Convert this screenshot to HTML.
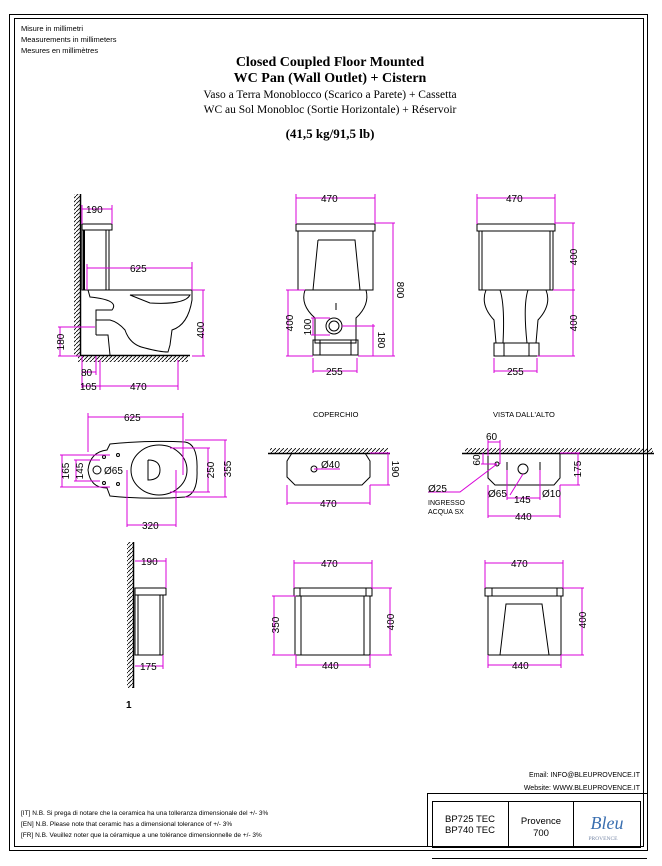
<!DOCTYPE html>
<html><head><meta charset="utf-8"><style>
html,body{margin:0;padding:0;background:#fff;}
svg{display:block;}
.s{font-family:"Liberation Sans",sans-serif;}
.t{font-family:"Liberation Serif",serif;}
.d{stroke:#d800d8;stroke-width:1;fill:none;}
.k{stroke:#000;fill:none;stroke-width:1;}
.dt{font-family:"Liberation Sans",sans-serif;font-size:10px;fill:#000;}
</style></head><body>
<svg width="662" height="866" viewBox="0 0 662 866" xmlns="http://www.w3.org/2000/svg">
<defs>
<pattern id="h" width="4" height="4" patternUnits="userSpaceOnUse"><path d="M0 4 L4 0" stroke="#000" stroke-width="0.8"/></pattern>
</defs>
<!-- frame -->
<rect x="9.5" y="14.5" width="638" height="836" class="k" stroke-width="1.5"/>
<rect x="14.5" y="18.5" width="629" height="828" class="k"/>
<line x1="427" y1="793.5" x2="647" y2="793.5" stroke="#000"/>
<line x1="427.5" y1="793" x2="427.5" y2="847" stroke="#000"/>
<rect x="432.5" y="801.5" width="208" height="46" class="k" stroke-width="1.3"/>
<line x1="508.5" y1="801" x2="508.5" y2="847" stroke="#000"/>
<line x1="573.5" y1="801" x2="573.5" y2="847" stroke="#000"/>
<line x1="432" y1="858.5" x2="647" y2="858.5" stroke="#000"/>
<!-- header -->
<g class="s" font-size="7.5">
<text x="21" y="31">Misure in millimetri</text>
<text x="21" y="42">Measurements in millimeters</text>
<text x="21" y="53">Mesures en millimètres</text>
</g>
<g class="t" text-anchor="middle">
<text x="330" y="66" font-size="14" font-weight="bold">Closed Coupled Floor Mounted</text>
<text x="330" y="82" font-size="14" font-weight="bold">WC Pan (Wall Outlet) + Cistern</text>
<text x="330" y="98" font-size="11.5">Vaso a Terra Monoblocco (Scarico a Parete) + Cassetta</text>
<text x="330" y="113" font-size="11.5">WC au Sol Monobloc (Sortie Horizontale) + Réservoir</text>
<text x="330" y="138" font-size="13" font-weight="bold">(41,5 kg/91,5 lb)</text>
</g>
<!-- SIDE VIEW -->
<rect x="74" y="194" width="6" height="162" fill="url(#h)"/>
<line x1="80.5" y1="194" x2="80.5" y2="356" stroke="#000" stroke-width="1.5"/>
<rect x="78" y="356" width="110" height="6" fill="url(#h)"/>
<line x1="80" y1="355.5" x2="190" y2="355.5" stroke="#000" stroke-width="1.5"/>
<rect x="82" y="224" width="30" height="6" class="k" stroke-width="1.5"/>
<rect x="82" y="230" width="27" height="60" class="k"/>
<line x1="84" y1="230" x2="84" y2="290" stroke="#000" stroke-width="2"/>
<line x1="106" y1="230" x2="106" y2="290" stroke="#000"/>
<path class="k" d="M108 290 L192 290 L192 300 Q188 325 172 330 L170 345 L168 352 Q160 352 145 348 Q130 345 125 330 Q118 322 110 320 L96 320 L96 310 L112 310 Q120 300 90 297 L88 290 Z"/>
<path class="k" d="M130 295 L190 295 Q185 305 150 303 Z"/>
<path class="k" d="M96 335 L108 335 L110 355 M96 320 L96 335"/>
<!-- side dims -->
<g class="d">
<path d="M82 209 H112 M112 205 V224 M82 205 V224"/>
<path d="M87 268 H192 M87 264 V290 M192 262 V290"/>
<path d="M192 290 H205 M203 290 V356 M192 356 H205"/>
<path d="M58 327 H95 M60 327 V356 M58 356 H80"/>
<path d="M82 372 H96 M96 356 V375 M82 356 V388"/>
<path d="M82 386 H100 M100 360 V390 M178 360 V390 M100 386 H178"/>
</g>
<g class="dt">
<text x="86" y="213">190</text>
<text x="130" y="272">625</text>
<text x="206" y="330" transform="rotate(-90 206 330)" text-anchor="middle" dy="-2">400</text>
<text x="64" y="342" transform="rotate(-90 64 342)" text-anchor="middle">180</text>
<text x="81" y="376">80</text>
<text x="80" y="390">105</text>
<text x="130" y="390">470</text>
</g>
<!-- FRONT VIEW -->
<rect x="296" y="224" width="79" height="7" class="k" stroke-width="1.5"/>
<rect x="298" y="231" width="75" height="59" class="k"/>
<path class="k" d="M318 240 L355 240 L360 290 M318 240 L313 290"/>
<path class="k" d="M305 290 Q300 305 315 318 L315 343 L356 343 L356 318 Q370 305 366 290"/>
<path class="k" d="M313 340 H358 V355 H313 Z M320 340 V355 M351 340 V355"/>
<circle cx="334" cy="326" r="8" class="k" stroke-width="1.5"/><circle cx="334" cy="326" r="5" class="k"/>
<line x1="336" y1="303" x2="336" y2="310" stroke="#000"/>
<g class="d">
<path d="M296 198 H375 M296 194 V224 M375 194 V224"/>
<path d="M375 223 H395 M393 223 V356 M358 356 H395"/>
<path d="M286 290 H305 M288 290 V356 M286 356 H313"/>
<path d="M311 318 H330 M313 318 V335 M311 335 H330"/>
<path d="M342 326 H375 M373 324 V356"/>
<path d="M313 358 V373 M357 358 V373 M313 371 H357"/>
</g>
<g class="dt">
<text x="321" y="202">470</text>
<text x="397" y="290" transform="rotate(90 397 290)" text-anchor="middle">800</text>
<text x="293" y="323" transform="rotate(-90 293 323)" text-anchor="middle">400</text>
<text x="311" y="327" transform="rotate(-90 311 327)" text-anchor="middle">100</text>
<text x="378" y="340" transform="rotate(90 378 340)" text-anchor="middle">180</text>
<text x="326" y="375">255</text>
</g>
<!-- BACK VIEW -->
<rect x="477" y="224" width="78" height="7" class="k" stroke-width="1.5"/>
<rect x="479" y="231" width="74" height="59" class="k"/>
<line x1="482" y1="231" x2="482" y2="290" stroke="#000"/><line x1="550" y1="231" x2="550" y2="290" stroke="#000"/>
<path class="k" d="M486 290 Q480 305 494 320 L496 343 M546 290 Q552 305 538 320 L536 343 M500 290 Q505 305 503 343 M528 290 Q523 305 527 343"/>
<path class="k" d="M494 343 H539 V356 H494 Z M504 343 V356 M529 343 V356"/>
<g class="d">
<path d="M477 198 H555 M477 194 V224 M555 194 V224"/>
<path d="M555 223 H575 M573 223 V356 M553 290 H575 M537 356 H575"/>
<path d="M494 358 V373 M537 358 V373 M494 371 H537"/>
</g>
<g class="dt">
<text x="506" y="202">470</text>
<text x="577" y="257" transform="rotate(-90 577 257)" text-anchor="middle">400</text>
<text x="577" y="323" transform="rotate(-90 577 323)" text-anchor="middle">400</text>
<text x="507" y="375">255</text>
</g>
<!-- PLAN VIEW -->
<path class="k" d="M110 444 Q150 440 185 442 Q198 444 197 470 Q198 494 185 497 Q150 500 110 496 L107 488 Q90 488 88 470 Q90 452 107 450 Z"/>
<ellipse cx="159" cy="470" rx="28" ry="25" class="k"/>
<path class="k" d="M148 460 V480 Q160 480 160 470 Q160 460 148 460"/>
<circle cx="97" cy="470" r="4" class="k" stroke-width="2"/>
<circle cx="118" cy="455" r="1.5" class="k"/><circle cx="118" cy="484" r="1.5" class="k"/>
<circle cx="104" cy="457" r="1.5" class="k"/><circle cx="104" cy="483" r="1.5" class="k"/>
<g class="d">
<path d="M88 417 H183 M88 413 V452 M183 413 V475"/>
<path d="M185 440 H227 M225 440 V497 M185 497 H227"/>
<path d="M170 448 H210 M208 448 V492 M170 492 H210"/>
<path d="M60 455 H110 M62 455 V487 M60 487 H110"/>
<path d="M74 460 H100 M76 460 V481 M74 481 H100"/>
<path d="M127 470 V527 M176 470 V527 M127 525 H176"/>
</g>
<g class="dt">
<text x="124" y="421">625</text>
<text x="104" y="474">Ø65</text>
<text x="214" y="470" transform="rotate(-90 214 470)" text-anchor="middle">250</text>
<text x="231" y="469" transform="rotate(-90 231 469)" text-anchor="middle">355</text>
<text x="69" y="471" transform="rotate(-90 69 471)" text-anchor="middle">165</text>
<text x="83" y="471" transform="rotate(-90 83 471)" text-anchor="middle">145</text>
<text x="142" y="529">320</text>
</g>
<!-- COPERCHIO -->
<text x="313" y="417" class="s" font-size="7.5">COPERCHIO</text>
<rect x="270" y="448" width="118" height="5" fill="url(#h)"/>
<line x1="268" y1="453.5" x2="390" y2="453.5" stroke="#000" stroke-width="1.5"/>
<path class="k" d="M292 453 L287 461 V477 L295 485 H362 L370 477 V461 L365 453" stroke-width="1.5"/>
<circle cx="314" cy="469" r="3" class="k"/>
<g class="d">
<path d="M314 469 H340"/>
<path d="M370 453 H390 M388 453 V485 M370 485 H390"/>
<path d="M287 485 V505 M370 485 V505 M287 503 H370"/>
</g>
<g class="dt">
<text x="321" y="468">Ø40</text>
<text x="392" y="469" transform="rotate(90 392 469)" text-anchor="middle">190</text>
<text x="320" y="507">470</text>
</g>
<!-- VISTA DALL'ALTO -->
<text x="493" y="417" class="s" font-size="7.5">VISTA DALL'ALTO</text>
<rect x="465" y="448" width="188" height="5" fill="url(#h)"/>
<line x1="462" y1="453.5" x2="654" y2="453.5" stroke="#000" stroke-width="1.5"/>
<path class="k" d="M488 453 V478 L495 485 H554 L560 478 V453" stroke-width="1.5"/>
<circle cx="523" cy="469" r="5" class="k"/>
<circle cx="497" cy="464" r="2" class="k"/>
<line x1="507" y1="462" x2="507" y2="470" stroke="#000"/><line x1="540" y1="462" x2="540" y2="470" stroke="#000"/>
<g class="d">
<path d="M488 442 H500 M488 440 V456 M500 440 V464"/>
<path d="M483 453 V464 M481 464 H497"/>
<path d="M560 453 H580 M578 453 V485 M560 485 H580"/>
<path d="M497 464 L460 492 H428"/>
<path d="M523 474 L510 495 M540 470 V500 M507 470 V500 M507 498 H540"/>
<path d="M488 485 V518 M560 485 V518 M488 516 H560"/>
</g>
<g class="dt">
<text x="486" y="440">60</text>
<text x="480" y="460" transform="rotate(-90 480 460)" text-anchor="middle">60</text>
<text x="581" y="469" transform="rotate(-90 581 469)" text-anchor="middle">175</text>
<text x="428" y="492">Ø25</text>
<text x="488" y="497">Ø65</text>
<text x="514" y="503">145</text>
<text x="542" y="497">Ø10</text>
<text x="515" y="520">440</text>
</g>
<g class="s" font-size="7"><text x="428" y="505">INGRESSO</text><text x="428" y="514">ACQUA SX</text></g>
<!-- CISTERN SIDE -->
<rect x="127" y="542" width="6" height="146" fill="url(#h)"/>
<line x1="133.5" y1="542" x2="133.5" y2="688" stroke="#000" stroke-width="1.5"/>
<rect x="135" y="588" width="31" height="7" class="k" stroke-width="1.2"/>
<rect x="135" y="595" width="28" height="60" class="k"/>
<line x1="138" y1="595" x2="138" y2="655" stroke="#000"/><line x1="160" y1="595" x2="160" y2="655" stroke="#000"/>
<g class="d">
<path d="M135 561 H166 M166 558 V588"/>
<path d="M135 666 H163 M163 655 V669"/>
</g>
<g class="dt"><text x="141" y="565">190</text><text x="140" y="670">175</text></g>
<text x="126" y="708" class="s" font-size="10" font-weight="bold">1</text>
<!-- CISTERN FRONT -->
<rect x="294" y="588" width="78" height="8" class="k" stroke-width="1.5"/>
<line x1="300" y1="588" x2="300" y2="596" stroke="#000"/><line x1="366" y1="588" x2="366" y2="596" stroke="#000"/>
<rect x="295" y="596" width="75" height="59" class="k"/>
<line x1="301" y1="596" x2="301" y2="655" stroke="#000"/><line x1="364" y1="596" x2="364" y2="655" stroke="#000"/>
<g class="d">
<path d="M294 563 H372 M294 560 V588 M372 560 V588"/>
<path d="M372 588 H392 M390 588 V655 M370 655 H392"/>
<path d="M272 596 H296 M274 596 V655 M272 655 H296"/>
<path d="M296 655 V668 M370 655 V668 M296 665 H370"/>
</g>
<g class="dt">
<text x="321" y="567">470</text>
<text x="394" y="622" transform="rotate(-90 394 622)" text-anchor="middle">400</text>
<text x="279" y="625" transform="rotate(-90 279 625)" text-anchor="middle">350</text>
<text x="322" y="669">440</text>
</g>
<!-- CISTERN BACK -->
<rect x="485" y="588" width="78" height="8" class="k" stroke-width="1.5"/>
<line x1="492" y1="588" x2="492" y2="596" stroke="#000"/><line x1="557" y1="588" x2="557" y2="596" stroke="#000"/>
<rect x="488" y="596" width="73" height="59" class="k"/>
<path class="k" d="M500 655 L506 604 H542 L549 655"/>
<g class="d">
<path d="M485 563 H563 M485 560 V588 M563 560 V588"/>
<path d="M563 588 H584 M582 588 V655 M561 655 H584"/>
<path d="M488 655 V668 M561 655 V668 M488 665 H561"/>
</g>
<g class="dt">
<text x="511" y="567">470</text>
<text x="586" y="620" transform="rotate(-90 586 620)" text-anchor="middle">400</text>
<text x="512" y="669">440</text>
</g>
<!-- footer -->
<g class="s" font-size="6.5">
<text x="21" y="815">[IT] N.B. Si prega di notare che la ceramica ha una tolleranza dimensionale del +/- 3%</text>
<text x="21" y="826">[EN] N.B. Please note that ceramic has a dimensional tolerance of +/- 3%</text>
<text x="21" y="837">[FR] N.B. Veuillez noter que la céramique a une tolérance dimensionnelle de +/- 3%</text>
</g>
<g class="s" font-size="7" text-anchor="end">
<text x="640" y="777">Email:  INFO@BLEUPROVENCE.IT</text>
<text x="640" y="790">Website:  WWW.BLEUPROVENCE.IT</text>
</g>
<g class="s" font-size="9.5" text-anchor="middle">
<text x="470" y="822">BP725  TEC</text>
<text x="470" y="833">BP740  TEC</text>
<text x="541" y="824">Provence</text>
<text x="541" y="836">700</text>
</g>
<text x="607" y="829" class="t" font-size="18" font-style="italic" fill="#3a6fb0" text-anchor="middle">Bleu</text>
<text x="603" y="840" class="t" font-size="5.5" fill="#7a8aa8" text-anchor="middle">PROVENCE</text>
</svg>
</body></html>
